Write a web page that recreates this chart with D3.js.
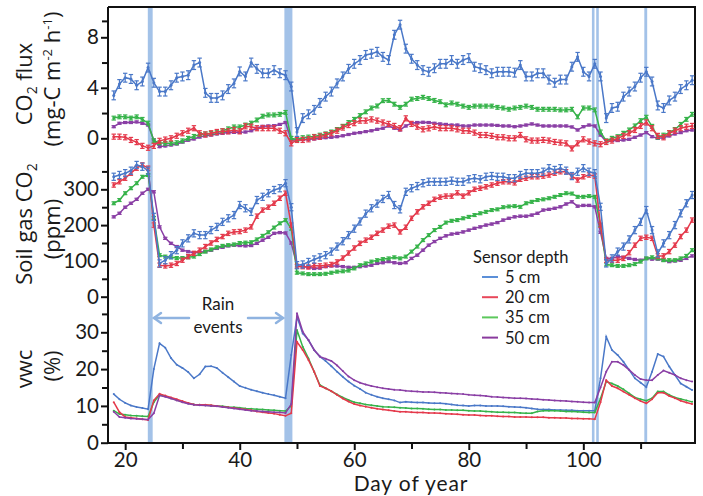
<!DOCTYPE html>
<html><head><meta charset="utf-8">
<script src="https://cdn.jsdelivr.net/npm/d3@7"></script>
<style>
body{margin:0;background:#fff}
svg{display:block}
text{font-family:"Open Sans",sans-serif;fill:#1a1a1a}
text.lato{font-family:"Lato",sans-serif}
</style>
</head><body>
<svg id="c" width="703" height="496"></svg>
<script>
// ---------- DATA ----------
const days = d3.range(18, 120); // day of year, 18..119

const fluxBlue = [3.4,4.3,4.8,4.7,4.2,4.5,5.6,4.4,3.7,3.7,
 4.2,4.8,4.9,5.0,5.8,6.0,3.6,3.2,3.2,3.4,
 3.9,4.35,5.3,4.9,6.0,5.5,5.15,5.15,5.4,5.15,
 5.0,4.1,0.5,1.6,1.9,2.25,2.8,3.3,3.7,4.35,
 4.9,5.5,5.9,6.2,6.6,6.7,6.85,6.45,6.2,8.2,
 9.0,7.1,6.3,5.8,5.4,5.27,5.55,5.9,5.9,6.2,
 5.9,6.2,6.35,5.67,5.55,5.4,5.15,5.27,5.27,5.27,
 5.2,5.8,4.9,4.9,5.15,5.15,4.65,4.4,4.65,4.65,
 5.67,6.45,5.27,4.9,5.9,4.9,1.6,2.4,2.5,3.3,
 3.7,4.1,4.8,5.27,4.5,2.6,2.4,3.0,3.3,3.9,
 4.2,4.6];
const fluxRed = [0.13,0.13,0.08,-0.13,-0.3,-0.6,-0.75,-0.6,-0.2,-0.1,
 0.0,0.2,0.4,0.6,0.8,0.4,0.3,0.4,0.5,0.55,
 0.55,0.66,0.55,0.95,0.92,0.8,0.8,0.8,0.8,0.6,
 0.4,-0.4,-0.13,-0.13,-0.08,0.08,0.13,0.26,0.4,0.6,
 0.85,1.05,1.2,1.4,1.4,1.5,1.4,1.25,1.14,0.98,
 0.8,1.58,1.14,0.92,0.71,0.79,0.92,0.8,0.8,0.8,
 0.71,0.6,0.6,0.45,0.26,0.26,0.19,0.08,0.08,0.0,
 0.0,0.26,-0.08,-0.18,-0.18,-0.13,-0.18,-0.29,-0.34,-0.4,
 -0.8,-0.4,-0.08,-0.26,-0.4,-0.47,-0.29,-0.18,0.0,0.19,
 0.4,0.66,0.98,1.25,0.8,0.19,0.08,0.4,0.6,0.8,
 0.92,0.98];
const fluxGreen = [1.6,1.7,1.7,1.6,1.7,1.5,1.2,-0.2,-0.35,-0.4,
 -0.4,-0.35,-0.2,0.0,0.15,0.3,0.35,0.4,0.45,0.6,
 0.75,0.9,0.9,1.05,1.2,1.45,1.75,1.85,1.85,1.9,
 2.05,0.0,-0.1,0.05,0.1,0.15,0.25,0.35,0.5,0.7,
 0.95,1.25,1.5,1.8,2.1,2.4,2.56,2.98,3.0,2.7,
 2.45,2.7,3.1,3.15,3.25,3.15,3.0,2.9,2.65,2.8,
 2.7,2.55,2.45,2.55,2.55,2.55,2.55,2.45,2.4,2.3,
 2.4,2.45,2.55,2.45,2.3,2.3,2.3,2.3,2.25,2.25,
 2.3,1.7,2.4,2.4,2.25,0.5,-0.2,0.0,0.13,0.4,
 0.66,0.98,1.4,1.67,0.95,0.1,0.25,0.45,0.7,1.1,
 1.5,1.9];
const fluxPurple = [0.92,1.19,1.25,1.25,1.3,1.19,1.05,-0.13,-0.66,-0.6,
 -0.53,-0.45,-0.3,-0.15,-0.05,0.1,0.2,0.26,0.35,0.4,
 0.45,0.47,0.47,0.5,0.6,0.8,0.95,0.98,1.0,1.1,
 1.25,-0.13,-0.13,-0.1,-0.08,-0.05,0.0,0.05,0.08,0.13,
 0.2,0.3,0.4,0.45,0.53,0.6,0.71,0.8,0.98,0.8,
 0.66,0.98,1.19,1.25,1.27,1.25,1.19,1.14,1.1,1.05,
 1.05,0.98,0.98,1.05,1.05,1.05,1.05,1.02,0.98,0.98,
 0.92,0.98,1.05,1.14,1.05,0.98,0.98,0.98,0.98,0.98,
 0.9,0.66,0.92,1.05,0.98,0.26,-0.26,-0.18,-0.18,-0.13,
 -0.08,0.08,0.26,0.45,0.13,0.0,0.05,0.19,0.35,0.45,
 0.6,0.66];

const gasBlue = [335,340,345,352,368,363,352,223,93,102,
 116,130,149,163,177,172,172,186,195,209,
 219,228,256,247,237,270,279,289,298,303,
 317,250,88,90,97,104,110,116,126,140,
 155,172,190,210,232,247,260,273,284,256,
 244,293,303,309,317,321,321,321,321,324,
 321,321,328,331,328,335,337,335,335,331,
 331,340,345,345,345,349,359,354,359,352,
 337,349,359,349,345,251,93,107,126,140,
 160,186,209,242,186,121,149,172,200,233,
 261,284];
const gasRed = [312,321,331,345,359,368,359,200,88,86,
 88,93,102,112,121,130,140,150,160,168,
 177,181,182,186,195,225,242,250,261,275,
 289,200,85,84,83,87,86,88,90,97,
 108,122,136,149,158,166,177,186,197,200,
 181,194,219,237,251,261,272,278,281,281,
 290,281,290,300,303,307,312,317,321,321,
 318,328,331,335,335,337,340,345,349,349,
 337,326,335,340,337,200,102,102,102,107,
 123,144,163,166,163,114,114,126,144,168,
 186,214];
const gasGreen = [261,270,289,303,317,335,340,220,116,112,
 110,108,108,110,112,119,126,132,138,142,
 144,146,150,151,152,160,170,180,193,205,
 214,190,67,65,63,63,63,64,67,70,
 71,73,79,88,93,98,102,105,107,110,
 107,112,126,140,158,172,186,195,207,212,
 214,219,223,228,233,237,242,244,250,252,
 253,251,261,265,270,272,275,279,284,289,
 288,279,279,281,279,200,90,88,86,86,
 88,91,98,107,110,107,102,102,102,107,
 114,130];
const gasPurple = [223,233,250,261,272,289,300,293,195,163,
 149,140,130,126,123,124,126,130,135,138,
 142,144,143,142,143,149,158,166,177,179,
 178,150,86,84,82,79,80,84,86,86,
 84,82,82,84,86,88,93,95,98,95,
 93,95,107,116,130,144,154,163,170,175,
 177,181,186,191,195,200,203,207,214,219,
 223,225,225,228,233,242,244,247,251,259,
 265,253,255,255,251,180,107,107,112,110,
 107,104,102,107,105,105,102,98,100,102,
 107,114];

const vwcBlue = [13.2,11.8,10.8,10.1,9.7,9.4,9.1,20,27,25.8,
 23,21.2,20.3,19.2,17.5,18.6,20.7,20.8,20.3,19.0,
 17.8,16.6,15.4,14.9,14.4,14.0,13.6,13.2,12.9,12.5,
 12.1,23.8,34.2,29.7,27.9,25.2,23.4,22.2,20.8,19.3,
 17.9,16.6,15.5,14.6,13.6,13.0,12.5,12.1,11.8,11.5,
 10.9,11.1,11.0,10.9,10.9,10.8,10.7,10.7,10.6,10.4,
 10.2,10.1,10.0,10.1,10.1,10.0,10.0,10.0,9.9,9.8,
 9.7,9.6,9.5,9.3,9.1,9.0,9.0,8.9,8.9,8.8,
 8.8,8.7,8.7,8.7,8.7,17.5,28.8,25.2,23.8,22,
 19.8,17.5,16.3,15.1,19.3,24.1,23.4,20.7,18.4,16.1,
 15.2,14.3];
const vwcRed = [11.0,8.3,7.0,6.8,6.6,6.4,6.2,11.5,13.3,12.8,
 12.3,11.8,11.3,10.8,10.4,10.3,10.3,10.2,10.0,9.8,
 9.6,9.4,9.2,9.0,8.8,8.5,8.3,8.1,7.9,7.6,
 7.3,8.0,27.4,25.2,22.5,19.3,15.4,14.8,14.0,13.0,
 12.0,11.2,10.5,10.1,9.8,9.5,9.2,9.0,8.8,8.6,
 8.4,8.4,8.3,8.2,8.2,8.1,8.1,8.0,7.9,7.8,
 7.7,7.6,7.5,7.5,7.4,7.3,7.3,7.2,7.1,7.1,
 7.0,7.0,7.0,6.9,6.9,6.9,6.8,6.8,6.7,6.7,
 6.6,6.6,6.5,6.5,6.4,11,17,15.4,14.8,13.9,
 13.0,12.1,11.3,10.7,11.8,13.6,13.6,12.7,12.1,11.4,
 10.9,10.5];
const vwcGreen = [8.7,7.8,7.6,7.4,7.3,7.2,7.1,11,13.0,12.6,
 12.1,11.6,11.1,10.7,10.4,10.3,10.2,10.1,10.0,9.9,
 9.7,9.6,9.5,9.3,9.2,9.1,9.0,8.9,8.8,8.7,
 8.6,10,30.6,26.1,22.9,19.3,15.7,14.8,14.0,13.1,
 12.3,11.6,11.0,10.7,10.4,10.2,10.0,9.8,9.7,9.6,
 9.5,9.4,9.3,9.3,9.2,9.1,9.0,9.0,8.9,8.9,
 8.8,8.8,8.7,8.6,8.6,8.5,8.4,8.3,8.3,8.2,
 8.2,8.1,8.0,8.0,8.5,8.7,8.7,8.7,8.6,8.5,
 8.5,8.4,8.3,8.2,8.2,12,16.6,16.1,15.4,14.5,
 13.4,12.3,11.8,11.4,12.1,13.9,13.9,13.0,12.3,11.9,
 11.5,11.1];
const vwcPurple = [8.4,7.0,6.8,6.6,6.5,6.4,6.3,8,12.8,12.5,
 12.0,11.5,11.0,10.6,10.3,10.2,10.1,10.0,9.9,9.7,
 9.5,9.3,9.1,8.9,8.7,8.6,8.5,8.4,8.3,8.2,
 8.1,10.5,35.2,30.2,27.9,25.2,23.4,22.8,22.2,21.0,
 19.5,18.0,17.0,16.3,15.8,15.4,15.1,14.8,14.6,14.4,
 14.3,14.1,14.0,13.9,13.8,13.8,13.7,13.6,13.5,13.4,
 13.3,13.2,13.0,12.9,12.8,12.7,12.5,12.4,12.3,12.2,
 12.1,12.1,12.0,11.9,11.8,11.7,11.6,11.5,11.4,11.3,
 11.2,11.1,11.0,10.9,10.9,15,19.3,22,22,21.1,
 19.8,18.4,17.3,17,17,18.4,19.6,19,18.4,17.5,
 17.0,16.6];

const fluxErr = [0.35, 0.2, 0.15, 0.08];
const gasErr = [10, 6, 4, 3];

const depthLabels = ["5 cm", "20 cm", "35 cm", "50 cm"];
const rainStart = [23.95, 47.8, 101.5, 102.25, 110.65];
const rainEnd   = [24.8, 49.2, 101.95, 102.7, 111.15];

const xTicks = [20, 40, 60, 80, 100];
const xMinor = [30, 50, 70, 90, 110];
const fluxTicks = [0, 4, 8], fluxMinor = [2, 6, 9.3];
const gasTicks = [0, 100, 200, 300], gasMinor = [50, 150, 250, 350];
const vwcTicks = [0, 10, 20, 30], vwcMinor = [5, 15, 25, 35];

// ---------- STYLE ----------
const colors = ["#4a78c8", "#e4394b", "#36b34a", "#8a3fa5"];
const legendColors = ["#5b8fd8", "#e8475a", "#5cc85c", "#8a3a9e"];
const rainColor = "#a3c2e8";

// ---------- SCALES ----------
const svg = d3.select("#c");
const L = 108, R = 695, T = 7, B = 443;
const x = d3.scaleLinear().domain([17, 119.5]).range([L, R]);
const yFlux = d3.scaleLinear().domain([0, 8]).range([138.3, 37.3]);
const yGas = d3.scaleLinear().domain([0, 300]).range([296.7, 189.3]);
const yVwc = d3.scaleLinear().domain([0, 30]).range([442.7, 332.3]);

// rain bands
svg.append("g").selectAll("rect").data(rainStart).join("rect")
  .attr("x", (d) => x(d)).attr("y", T)
  .attr("width", (d, i) => x(rainEnd[i]) - x(d)).attr("height", B - T)
  .attr("fill", rainColor);

// frame
svg.append("path").attr("d", `M${L},${T}H${R}V${B}`).attr("fill", "none")
  .attr("stroke", "#111").attr("stroke-width", 2);
svg.append("line").attr("x1", L).attr("x2", L).attr("y1", T).attr("y2", B + 1)
  .attr("stroke", "#111").attr("stroke-width", 2);
svg.append("line").attr("x1", L - 1).attr("x2", R + 1).attr("y1", B).attr("y2", B)
  .attr("stroke", "#111").attr("stroke-width", 2);

function leftAxis(scale, major, minor) {
  const g = svg.append("g").attr("transform", `translate(${L},0)`)
    .call(d3.axisLeft(scale).tickValues(major).tickFormat(d3.format("d")).tickSize(7).tickPadding(2));
  g.select(".domain").remove();
  g.selectAll("line").attr("stroke", "#111").attr("stroke-width", 2);
  g.selectAll("text").attr("class", "lato").style("font-size", "20.5px").attr("fill", "#1a1a1a");
  const m = svg.append("g").attr("transform", `translate(${L},0)`)
    .call(d3.axisLeft(scale).tickValues(minor).tickFormat("").tickSize(6));
  m.select(".domain").remove();
  m.selectAll("line").attr("stroke", "#111").attr("stroke-width", 2);
}
leftAxis(yFlux, fluxTicks, fluxMinor);
leftAxis(yGas, gasTicks, gasMinor);
leftAxis(yVwc, vwcTicks, vwcMinor);

const gx = svg.append("g").attr("transform", `translate(0,${B})`)
  .call(d3.axisBottom(x).tickValues(xTicks).tickFormat(d3.format("d")).tickSize(7).tickPadding(2));
gx.select(".domain").remove();
gx.selectAll("line").attr("stroke", "#111").attr("stroke-width", 2);
gx.selectAll("text").attr("class", "lato").style("font-size", "20.5px").attr("fill", "#1a1a1a");
const gxm = svg.append("g").attr("transform", `translate(0,${B})`)
  .call(d3.axisBottom(x).tickValues(xMinor).tickFormat("").tickSize(6));
gxm.select(".domain").remove();
gxm.selectAll("line").attr("stroke", "#111").attr("stroke-width", 2);

// ---------- SERIES ----------
function drawSeries(vals, yS, color, err, r) {
  const pts = days.map((d, i) => [d, vals[i]]);
  const g = svg.append("g");
  g.append("path").datum(pts)
    .attr("d", d3.line().x((p) => x(p[0])).y((p) => yS(p[1])))
    .attr("fill", "none").attr("stroke", color).attr("stroke-width", 1.5);
  if (err > 0) {
    const eb = g.append("g").attr("stroke", color).attr("stroke-width", 1.2);
    pts.forEach((p) => {
      const cx = x(p[0]), y1 = yS(p[1] - err), y2 = yS(p[1] + err);
      eb.append("line").attr("x1", cx).attr("x2", cx).attr("y1", y1).attr("y2", y2);
      eb.append("line").attr("x1", cx - 2.2).attr("x2", cx + 2.2).attr("y1", y1).attr("y2", y1);
      eb.append("line").attr("x1", cx - 2.2).attr("x2", cx + 2.2).attr("y1", y2).attr("y2", y2);
    });
  }
  g.selectAll("circle").data(pts).join("circle")
    .attr("cx", (p) => x(p[0])).attr("cy", (p) => yS(p[1])).attr("r", r).attr("fill", color);
}
const fluxSeries = [fluxBlue, fluxRed, fluxGreen, fluxPurple];
const gasSeries = [gasBlue, gasRed, gasGreen, gasPurple];
const vwcSeries = [vwcBlue, vwcRed, vwcGreen, vwcPurple];
[3, 2, 1, 0].forEach((i) => drawSeries(fluxSeries[i], yFlux, colors[i], fluxErr[i], 1.5));
[3, 2, 1, 0].forEach((i) => drawSeries(gasSeries[i], yGas, colors[i], gasErr[i], 1.5));
[0, 2, 1, 3].forEach((i) => drawSeries(vwcSeries[i], yVwc, colors[i], 0, 1.0));

// ---------- LEGEND ----------
const lg = svg.append("g");
lg.append("text").attr("class", "lato").attr("x", 473).attr("y", 263)
  .style("font-size", "16.5px").text("Sensor depth");
depthLabels.forEach((lab, i) => {
  const yy = 277 + i * 20.2;
  lg.append("line").attr("x1", 482).attr("x2", 498).attr("y1", yy).attr("y2", yy)
    .attr("stroke", legendColors[i]).attr("stroke-width", 2);
  lg.append("text").attr("class", "lato").attr("x", 505).attr("y", yy + 6)
    .style("font-size", "16.5px").text(lab);
});

// ---------- RAIN ANNOTATION ----------
const arrowColor = "#8fb3e0";
const ag = svg.append("g").attr("stroke", arrowColor).attr("stroke-width", 2.5).attr("fill", "none")
  .attr("stroke-linecap", "round");
ag.append("line").attr("x1", 154).attr("x2", 189).attr("y1", 318).attr("y2", 318);
ag.append("path").attr("d", "M161,313 L154,318 L161,323");
ag.append("line").attr("x1", 248).attr("x2", 283).attr("y1", 318).attr("y2", 318);
ag.append("path").attr("d", "M276,313 L283,318 L276,323");
svg.append("text").attr("class", "lato").attr("x", 218).attr("y", 310).attr("text-anchor", "middle")
  .style("font-size", "17px").text("Rain");
svg.append("text").attr("class", "lato").attr("x", 218).attr("y", 333).attr("text-anchor", "middle")
  .style("font-size", "17px").text("events");

// ---------- AXIS TITLES ----------
function rotTitle(cx, cy, build) {
  const t = svg.append("text").attr("transform", `translate(${cx},${cy}) rotate(-90)`)
    .attr("text-anchor", "middle").attr("font-size", 22);
  build(t);
}
rotTitle(32, 84, (t) => {
  t.append("tspan").text("CO");
  t.append("tspan").attr("font-size", 14).attr("dy", 5).text("2");
  t.append("tspan").attr("dy", -5).text(" flux");
});
rotTitle(60, 79, (t) => {
  t.append("tspan").text("(mg-C m");
  t.append("tspan").attr("font-size", 13).attr("dy", -8).text("-2");
  t.append("tspan").attr("dy", 8).text(" h");
  t.append("tspan").attr("font-size", 13).attr("dy", -8).text("-1");
  t.append("tspan").attr("dy", 8).text(")");
});
rotTitle(32, 224, (t) => {
  t.append("tspan").text("Soil gas CO");
  t.append("tspan").attr("font-size", 14).attr("dy", 5).text("2");
});
rotTitle(60, 229, (t) => t.text("(ppm)"));
rotTitle(32, 369, (t) => t.text("vwc"));
rotTitle(60, 366, (t) => t.text("(%)"));

svg.append("text").attr("class", "lato").attr("x", 411).attr("y", 491).attr("text-anchor", "middle")
  .style("font-size", "21px").style("letter-spacing", "0.9px").text("Day of year");
</script>
</body></html>
